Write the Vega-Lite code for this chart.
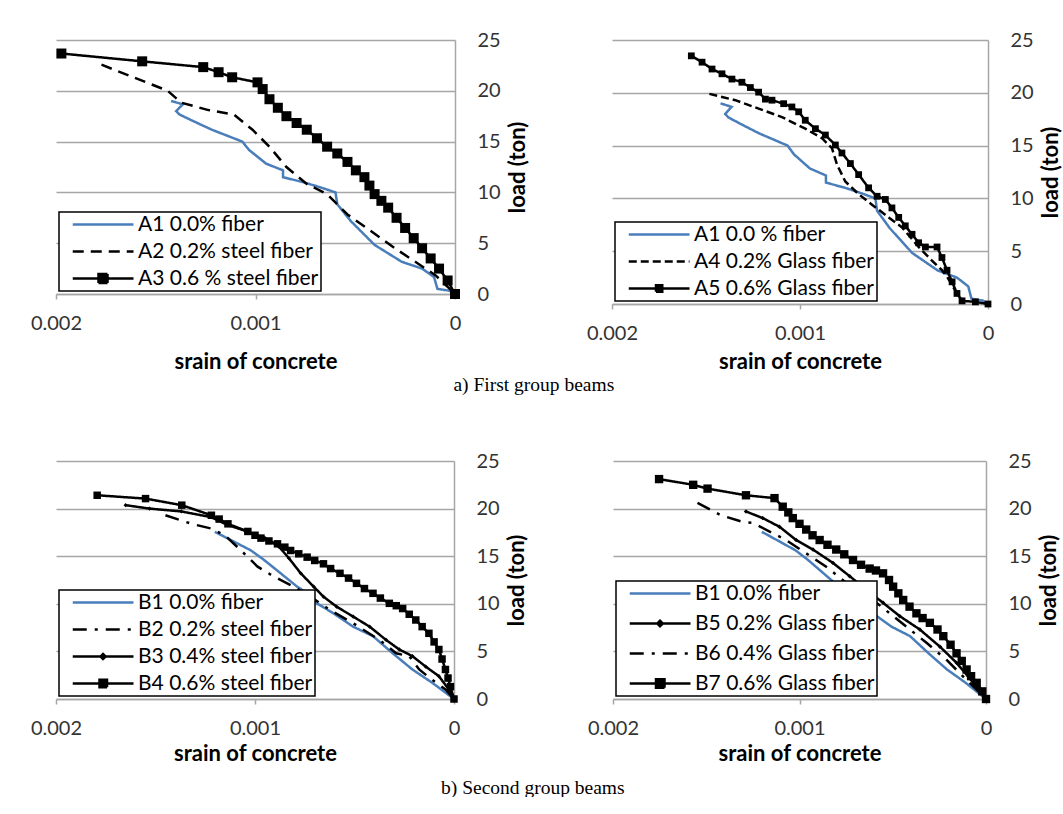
{
  "$schema": "https://vega.github.io/schema/vega-lite/v6.json",
  "background": "white",
  "padding": {"left": 30, "top": 30, "right": 0, "bottom": 0},
  "datasets": {
    "curves": [
      {"beam": "A1", "strain": 0.001423, "load": 19.0},
      {"beam": "A1", "strain": 0.001364, "load": 18.67},
      {"beam": "A1", "strain": 0.001398, "load": 18.0},
      {"beam": "A1", "strain": 0.001381, "load": 17.67},
      {"beam": "A1", "strain": 0.001321, "load": 17.1},
      {"beam": "A1", "strain": 0.001219, "load": 16.17},
      {"beam": "A1", "strain": 0.001066, "load": 15.0},
      {"beam": "A1", "strain": 0.001032, "load": 14.17},
      {"beam": "A1", "strain": 0.000947, "load": 12.83},
      {"beam": "A1", "strain": 0.000862, "load": 12.17},
      {"beam": "A1", "strain": 0.000862, "load": 11.5},
      {"beam": "A1", "strain": 0.00076, "load": 11.0},
      {"beam": "A1", "strain": 0.000675, "load": 10.5},
      {"beam": "A1", "strain": 0.000599, "load": 10.0},
      {"beam": "A1", "strain": 0.00059, "load": 8.83},
      {"beam": "A1", "strain": 0.000522, "load": 7.17},
      {"beam": "A1", "strain": 0.000403, "load": 4.83},
      {"beam": "A1", "strain": 0.000267, "load": 3.17},
      {"beam": "A1", "strain": 0.000165, "load": 2.5},
      {"beam": "A1", "strain": 0.000105, "load": 1.67},
      {"beam": "A1", "strain": 0.000088, "load": 0.5},
      {"beam": "A1", "strain": 0.000029, "load": 0.33},
      {"beam": "A1", "strain": 0.0, "load": 0.0},

      {"beam": "A2", "strain": 0.001772, "load": 22.57},
      {"beam": "A2", "strain": 0.00144, "load": 20.0},
      {"beam": "A2", "strain": 0.001372, "load": 18.83},
      {"beam": "A2", "strain": 0.001236, "load": 18.1},
      {"beam": "A2", "strain": 0.001109, "load": 17.67},
      {"beam": "A2", "strain": 0.001015, "load": 16.17},
      {"beam": "A2", "strain": 0.00093, "load": 14.5},
      {"beam": "A2", "strain": 0.000845, "load": 12.5},
      {"beam": "A2", "strain": 0.000743, "load": 10.83},
      {"beam": "A2", "strain": 0.000641, "load": 9.83},
      {"beam": "A2", "strain": 0.000539, "load": 7.83},
      {"beam": "A2", "strain": 0.00042, "load": 6.17},
      {"beam": "A2", "strain": 0.000301, "load": 4.5},
      {"beam": "A2", "strain": 0.000199, "load": 3.17},
      {"beam": "A2", "strain": 0.000097, "load": 1.83},
      {"beam": "A2", "strain": 0.0, "load": 0.0},

      {"beam": "A3", "strain": 0.001973, "load": 23.67},
      {"beam": "A3", "strain": 0.001568, "load": 22.9},
      {"beam": "A3", "strain": 0.001262, "load": 22.33},
      {"beam": "A3", "strain": 0.001185, "load": 21.83},
      {"beam": "A3", "strain": 0.001117, "load": 21.33},
      {"beam": "A3", "strain": 0.00099, "load": 20.83},
      {"beam": "A3", "strain": 0.000964, "load": 20.17},
      {"beam": "A3", "strain": 0.00093, "load": 19.17},
      {"beam": "A3", "strain": 0.000888, "load": 18.33},
      {"beam": "A3", "strain": 0.000845, "load": 17.5},
      {"beam": "A3", "strain": 0.000794, "load": 16.83},
      {"beam": "A3", "strain": 0.000743, "load": 16.17},
      {"beam": "A3", "strain": 0.000692, "load": 15.33},
      {"beam": "A3", "strain": 0.000641, "load": 14.5},
      {"beam": "A3", "strain": 0.00059, "load": 13.83},
      {"beam": "A3", "strain": 0.000539, "load": 13.0},
      {"beam": "A3", "strain": 0.000497, "load": 12.17},
      {"beam": "A3", "strain": 0.000454, "load": 11.5},
      {"beam": "A3", "strain": 0.000429, "load": 10.67},
      {"beam": "A3", "strain": 0.000403, "load": 9.83},
      {"beam": "A3", "strain": 0.000369, "load": 9.17},
      {"beam": "A3", "strain": 0.000335, "load": 8.5},
      {"beam": "A3", "strain": 0.000293, "load": 7.5},
      {"beam": "A3", "strain": 0.00025, "load": 6.5},
      {"beam": "A3", "strain": 0.000207, "load": 5.5},
      {"beam": "A3", "strain": 0.000165, "load": 4.5},
      {"beam": "A3", "strain": 0.000122, "load": 3.5},
      {"beam": "A3", "strain": 0.00008, "load": 2.5},
      {"beam": "A3", "strain": 0.000037, "load": 1.33},
      {"beam": "A3", "strain": 0.0, "load": 0.0},

      {"beam": "A4", "strain": 0.001482, "load": 19.9},
      {"beam": "A4", "strain": 0.001344, "load": 19.3},
      {"beam": "A4", "strain": 0.00122, "load": 18.5},
      {"beam": "A4", "strain": 0.001096, "load": 17.7},
      {"beam": "A4", "strain": 0.000972, "load": 16.6},
      {"beam": "A4", "strain": 0.000883, "load": 15.7},
      {"beam": "A4", "strain": 0.00083, "load": 14.75},
      {"beam": "A4", "strain": 0.000803, "load": 13.2},
      {"beam": "A4", "strain": 0.000759, "load": 11.6},
      {"beam": "A4", "strain": 0.000688, "load": 10.4},
      {"beam": "A4", "strain": 0.000617, "load": 9.4},
      {"beam": "A4", "strain": 0.000528, "load": 8.2},
      {"beam": "A4", "strain": 0.000457, "load": 7.25},
      {"beam": "A4", "strain": 0.000369, "load": 5.4},
      {"beam": "A4", "strain": 0.000298, "load": 4.1},
      {"beam": "A4", "strain": 0.000245, "load": 3.2},
      {"beam": "A4", "strain": 0.000218, "load": 2.6},
      {"beam": "A4", "strain": 0.000165, "load": 1.0},
      {"beam": "A4", "strain": 0.000138, "load": 0.3},

      {"beam": "A5", "strain": 0.001578, "load": 23.5},
      {"beam": "A5", "strain": 0.001521, "load": 22.9},
      {"beam": "A5", "strain": 0.001468, "load": 22.25},
      {"beam": "A5", "strain": 0.001415, "load": 21.8},
      {"beam": "A5", "strain": 0.001362, "load": 21.3},
      {"beam": "A5", "strain": 0.001309, "load": 21.0},
      {"beam": "A5", "strain": 0.001264, "load": 20.5},
      {"beam": "A5", "strain": 0.00122, "load": 20.06},
      {"beam": "A5", "strain": 0.001184, "load": 19.4},
      {"beam": "A5", "strain": 0.001149, "load": 19.3},
      {"beam": "A5", "strain": 0.001087, "load": 18.97},
      {"beam": "A5", "strain": 0.001043, "load": 18.66},
      {"beam": "A5", "strain": 0.001007, "load": 18.2},
      {"beam": "A5", "strain": 0.000972, "load": 17.4},
      {"beam": "A5", "strain": 0.000918, "load": 16.6},
      {"beam": "A5", "strain": 0.000865, "load": 16.0},
      {"beam": "A5", "strain": 0.000812, "load": 15.06},
      {"beam": "A5", "strain": 0.000777, "load": 14.3},
      {"beam": "A5", "strain": 0.000732, "load": 13.3},
      {"beam": "A5", "strain": 0.000688, "load": 12.25},
      {"beam": "A5", "strain": 0.000635, "load": 11.0},
      {"beam": "A5", "strain": 0.00059, "load": 10.2},
      {"beam": "A5", "strain": 0.000546, "load": 9.9},
      {"beam": "A5", "strain": 0.000511, "load": 9.1},
      {"beam": "A5", "strain": 0.000475, "load": 8.2},
      {"beam": "A5", "strain": 0.00044, "load": 7.4},
      {"beam": "A5", "strain": 0.000404, "load": 6.6},
      {"beam": "A5", "strain": 0.000369, "load": 5.8},
      {"beam": "A5", "strain": 0.000333, "load": 5.4},
      {"beam": "A5", "strain": 0.000271, "load": 5.4},
      {"beam": "A5", "strain": 0.000245, "load": 4.4},
      {"beam": "A5", "strain": 0.000218, "load": 3.2},
      {"beam": "A5", "strain": 0.000191, "load": 2.1},
      {"beam": "A5", "strain": 0.000165, "load": 1.0},
      {"beam": "A5", "strain": 0.000138, "load": 0.3},
      {"beam": "A5", "strain": 0.000067, "load": 0.2},
      {"beam": "A5", "strain": 0.0, "load": 0.0},

      {"beam": "B1", "strain": 0.001202, "load": 17.56},
      {"beam": "B1", "strain": 0.001103, "load": 16.5},
      {"beam": "B1", "strain": 0.00102, "load": 15.6},
      {"beam": "B1", "strain": 0.000954, "load": 14.6},
      {"beam": "B1", "strain": 0.000871, "load": 13.2},
      {"beam": "B1", "strain": 0.000788, "load": 11.8},
      {"beam": "B1", "strain": 0.000722, "load": 10.9},
      {"beam": "B1", "strain": 0.000689, "load": 10.05},
      {"beam": "B1", "strain": 0.000606, "load": 9.0},
      {"beam": "B1", "strain": 0.000507, "load": 7.6},
      {"beam": "B1", "strain": 0.000407, "load": 6.6},
      {"beam": "B1", "strain": 0.000308, "load": 4.8},
      {"beam": "B1", "strain": 0.000209, "load": 3.1},
      {"beam": "B1", "strain": 0.000109, "load": 1.7},
      {"beam": "B1", "strain": 0.0, "load": 0.0},

      {"beam": "B2", "strain": 0.00145, "load": 19.3},
      {"beam": "B2", "strain": 0.001318, "load": 18.4},
      {"beam": "B2", "strain": 0.001219, "load": 17.9},
      {"beam": "B2", "strain": 0.001152, "load": 17.2},
      {"beam": "B2", "strain": 0.00107, "load": 15.6},
      {"beam": "B2", "strain": 0.000987, "load": 13.9},
      {"beam": "B2", "strain": 0.000904, "load": 12.85},
      {"beam": "B2", "strain": 0.000805, "load": 11.8},
      {"beam": "B2", "strain": 0.000722, "load": 10.75},
      {"beam": "B2", "strain": 0.000623, "load": 9.35},
      {"beam": "B2", "strain": 0.000507, "load": 7.96},
      {"beam": "B2", "strain": 0.000374, "load": 6.2},
      {"beam": "B2", "strain": 0.000291, "load": 4.8},
      {"beam": "B2", "strain": 0.000225, "load": 4.5},
      {"beam": "B2", "strain": 0.000175, "load": 3.1},
      {"beam": "B2", "strain": 0.000109, "load": 2.0},
      {"beam": "B2", "strain": 0.000043, "load": 1.0},
      {"beam": "B2", "strain": 0.0, "load": 0.0},

      {"beam": "B3", "strain": 0.00165, "load": 20.36},
      {"beam": "B3", "strain": 0.00153, "load": 20.0},
      {"beam": "B3", "strain": 0.00137, "load": 19.7},
      {"beam": "B3", "strain": 0.00122, "load": 19.1},
      {"beam": "B3", "strain": 0.00114, "load": 18.3},
      {"beam": "B3", "strain": 0.00104, "load": 17.6},
      {"beam": "B3", "strain": 0.00095, "load": 16.9},
      {"beam": "B3", "strain": 0.00088, "load": 16.0},
      {"beam": "B3", "strain": 0.00083, "load": 14.8},
      {"beam": "B3", "strain": 0.00077, "load": 13.2},
      {"beam": "B3", "strain": 0.000705, "load": 11.8},
      {"beam": "B3", "strain": 0.000656, "load": 10.75},
      {"beam": "B3", "strain": 0.00059, "load": 9.7},
      {"beam": "B3", "strain": 0.000507, "load": 8.66},
      {"beam": "B3", "strain": 0.000424, "load": 7.6},
      {"beam": "B3", "strain": 0.000341, "load": 6.2},
      {"beam": "B3", "strain": 0.000275, "load": 5.2},
      {"beam": "B3", "strain": 0.000209, "load": 4.5},
      {"beam": "B3", "strain": 0.000142, "load": 3.4},
      {"beam": "B3", "strain": 0.000076, "load": 2.4},
      {"beam": "B3", "strain": 0.000026, "load": 1.0},
      {"beam": "B3", "strain": 0.0, "load": 0.0},

      {"beam": "B4", "strain": 0.001793, "load": 21.4},
      {"beam": "B4", "strain": 0.00155, "load": 21.05},
      {"beam": "B4", "strain": 0.001368, "load": 20.36},
      {"beam": "B4", "strain": 0.001219, "load": 19.3},
      {"beam": "B4", "strain": 0.00118, "load": 18.9},
      {"beam": "B4", "strain": 0.001136, "load": 18.4},
      {"beam": "B4", "strain": 0.001036, "load": 17.6},
      {"beam": "B4", "strain": 0.001, "load": 17.2},
      {"beam": "B4", "strain": 0.00097, "load": 16.9},
      {"beam": "B4", "strain": 0.00093, "load": 16.6},
      {"beam": "B4", "strain": 0.000887, "load": 16.3},
      {"beam": "B4", "strain": 0.00085, "load": 15.95},
      {"beam": "B4", "strain": 0.000821, "load": 15.6},
      {"beam": "B4", "strain": 0.00078, "load": 15.25},
      {"beam": "B4", "strain": 0.000738, "load": 14.9},
      {"beam": "B4", "strain": 0.0007, "load": 14.55},
      {"beam": "B4", "strain": 0.000656, "load": 14.2},
      {"beam": "B4", "strain": 0.00062, "load": 13.7},
      {"beam": "B4", "strain": 0.000573, "load": 13.2},
      {"beam": "B4", "strain": 0.00053, "load": 12.7},
      {"beam": "B4", "strain": 0.00049, "load": 12.15},
      {"beam": "B4", "strain": 0.00045, "load": 11.6},
      {"beam": "B4", "strain": 0.000407, "load": 11.1},
      {"beam": "B4", "strain": 0.00037, "load": 10.6},
      {"beam": "B4", "strain": 0.000325, "load": 10.05},
      {"beam": "B4", "strain": 0.00029, "load": 9.8},
      {"beam": "B4", "strain": 0.000258, "load": 9.5},
      {"beam": "B4", "strain": 0.000225, "load": 8.9},
      {"beam": "B4", "strain": 0.000192, "load": 8.3},
      {"beam": "B4", "strain": 0.00016, "load": 7.6},
      {"beam": "B4", "strain": 0.000126, "load": 6.9},
      {"beam": "B4", "strain": 0.0001, "load": 6.0},
      {"beam": "B4", "strain": 0.000076, "load": 5.2},
      {"beam": "B4", "strain": 0.00006, "load": 4.2},
      {"beam": "B4", "strain": 0.000043, "load": 3.1},
      {"beam": "B4", "strain": 0.00003, "load": 2.2},
      {"beam": "B4", "strain": 0.000018, "load": 1.3},
      {"beam": "B4", "strain": 0.0, "load": 0.0},

      {"beam": "B5", "strain": 0.001287, "load": 19.7},
      {"beam": "B5", "strain": 0.001197, "load": 19.0},
      {"beam": "B5", "strain": 0.001108, "load": 18.1},
      {"beam": "B5", "strain": 0.001018, "load": 16.7},
      {"beam": "B5", "strain": 0.000928, "load": 15.7},
      {"beam": "B5", "strain": 0.000821, "load": 14.3},
      {"beam": "B5", "strain": 0.000731, "load": 12.9},
      {"beam": "B5", "strain": 0.000642, "load": 11.5},
      {"beam": "B5", "strain": 0.000552, "load": 10.1},
      {"beam": "B5", "strain": 0.000462, "load": 8.7},
      {"beam": "B5", "strain": 0.000355, "load": 7.3},
      {"beam": "B5", "strain": 0.000247, "load": 5.5},
      {"beam": "B5", "strain": 0.000158, "load": 3.8},
      {"beam": "B5", "strain": 0.000068, "load": 1.7},
      {"beam": "B5", "strain": 0.0, "load": 0.0},

      {"beam": "B6", "strain": 0.001547, "load": 20.6},
      {"beam": "B6", "strain": 0.001421, "load": 19.3},
      {"beam": "B6", "strain": 0.001305, "load": 18.6},
      {"beam": "B6", "strain": 0.001251, "load": 18.5},
      {"beam": "B6", "strain": 0.001072, "load": 16.7},
      {"beam": "B6", "strain": 0.000964, "load": 15.3},
      {"beam": "B6", "strain": 0.000857, "load": 13.9},
      {"beam": "B6", "strain": 0.000749, "load": 12.2},
      {"beam": "B6", "strain": 0.000606, "load": 10.4},
      {"beam": "B6", "strain": 0.000516, "load": 9.0},
      {"beam": "B6", "strain": 0.000427, "load": 7.6},
      {"beam": "B6", "strain": 0.000319, "load": 5.9},
      {"beam": "B6", "strain": 0.000211, "load": 4.1},
      {"beam": "B6", "strain": 0.000104, "load": 2.0},
      {"beam": "B6", "strain": 0.0, "load": 0.0},

      {"beam": "B7", "strain": 0.001753, "load": 23.1},
      {"beam": "B7", "strain": 0.00157, "load": 22.5},
      {"beam": "B7", "strain": 0.001493, "load": 22.1},
      {"beam": "B7", "strain": 0.001287, "load": 21.4},
      {"beam": "B7", "strain": 0.001134, "load": 21.1},
      {"beam": "B7", "strain": 0.00109, "load": 20.2},
      {"beam": "B7", "strain": 0.00106, "load": 19.6},
      {"beam": "B7", "strain": 0.001036, "load": 19.0},
      {"beam": "B7", "strain": 0.001, "load": 18.4},
      {"beam": "B7", "strain": 0.000964, "load": 17.8},
      {"beam": "B7", "strain": 0.00093, "load": 17.2},
      {"beam": "B7", "strain": 0.000892, "load": 16.7},
      {"beam": "B7", "strain": 0.00085, "load": 16.2},
      {"beam": "B7", "strain": 0.000803, "load": 15.7},
      {"beam": "B7", "strain": 0.00076, "load": 15.2},
      {"beam": "B7", "strain": 0.000713, "load": 14.6},
      {"beam": "B7", "strain": 0.00067, "load": 14.1},
      {"beam": "B7", "strain": 0.000624, "load": 13.7},
      {"beam": "B7", "strain": 0.00059, "load": 13.5},
      {"beam": "B7", "strain": 0.000552, "load": 13.2},
      {"beam": "B7", "strain": 0.00052, "load": 12.5},
      {"beam": "B7", "strain": 0.000498, "load": 11.8},
      {"beam": "B7", "strain": 0.00047, "load": 11.1},
      {"beam": "B7", "strain": 0.000444, "load": 10.4},
      {"beam": "B7", "strain": 0.00041, "load": 9.7},
      {"beam": "B7", "strain": 0.000373, "load": 9.0},
      {"beam": "B7", "strain": 0.00034, "load": 8.5},
      {"beam": "B7", "strain": 0.000301, "load": 8.0},
      {"beam": "B7", "strain": 0.00026, "load": 7.3},
      {"beam": "B7", "strain": 0.000229, "load": 6.6},
      {"beam": "B7", "strain": 0.00019, "load": 5.7},
      {"beam": "B7", "strain": 0.000158, "load": 4.8},
      {"beam": "B7", "strain": 0.00013, "load": 4.0},
      {"beam": "B7", "strain": 0.000104, "load": 3.1},
      {"beam": "B7", "strain": 0.00008, "load": 2.4},
      {"beam": "B7", "strain": 0.00005, "load": 1.7},
      {"beam": "B7", "strain": 0.00002, "load": 0.8},
      {"beam": "B7", "strain": 0.0, "load": 0.0}
    ]
  },
  "data": {"name": "curves"},
  "spacing": 57,
  "resolve": {
    "scale": {"color": "independent", "strokeDash": "independent", "shape": "independent", "size": "independent"},
    "legend": {"color": "independent", "strokeDash": "independent"}
  },
  "vconcat": [
    {
      "title": {"text": "a) First group beams", "orient": "bottom", "anchor": "middle", "offset": 3, "dx": -12},
      "spacing": 57,
      "resolve": {
        "scale": {"color": "independent", "strokeDash": "independent", "shape": "independent", "size": "independent"},
        "legend": {"color": "independent", "strokeDash": "independent"}
      },
      "hconcat": [
        {
          "width": 399,
          "height": 254,
          "transform": [{"filter": {"field": "beam", "oneOf": ["A1", "A2", "A3"]}}],
          "encoding": {
            "x": {"field": "strain", "type": "quantitative", "scale": {"domain": [0, 0.002], "reverse": true, "nice": false},
                  "axis": {"values": [0, 0.001, 0.002], "format": ".3~f", "title": "srain of concrete", "labelPadding": 14.5, "titlePadding": 18}},
            "y": {"field": "load", "type": "quantitative", "scale": {"domain": [0, 25], "nice": false},
                  "axis": {"orient": "right", "values": [0, 5, 10, 15, 20, 25], "title": "load (ton)"}}
          },
          "layer": [
            {
              "mark": {"type": "line", "strokeWidth": 2.5},
              "encoding": {
                "color": {"field": "beam", "type": "nominal", "scale": {"domain": ["A1", "A2", "A3"], "range": ["#4a7ebb", "black", "black"]},
                  "legend": {"title": null, "rowPadding": 5,
                    "labelExpr": "datum.label == 'A1' ? 'A1 0.0% fiber' : datum.label == 'A2' ? 'A2 0.2% steel fiber' : 'A3 0.6 % steel fiber'",
                    "encode": {"symbols": {"update": {"fill": {"value": "black"}, "shape": {"signal": "datum.value == 'A3' ? 'M0.25,0H12.4M5.4,-0.9H7.2V0.9H5.4Z' : 'M0.25,0H12.4'"}}}}}},
                "strokeDash": {"field": "beam", "type": "nominal", "scale": {"domain": ["A1", "A2", "A3"], "range": [[1, 0], [11, 7], [1, 0]]},
                  "legend": {"title": null, "rowPadding": 5,
                    "labelExpr": "datum.label == 'A1' ? 'A1 0.0% fiber' : datum.label == 'A2' ? 'A2 0.2% steel fiber' : 'A3 0.6 % steel fiber'",
                    "encode": {"symbols": {"update": {"fill": {"value": "black"}, "shape": {"signal": "datum.value == 'A3' ? 'M0.25,0H12.4M5.4,-0.9H7.2V0.9H5.4Z' : 'M0.25,0H12.4'"}}}}}},
                "order": {"value": null}
              }
            },
            {
              "transform": [{"filter": {"field": "beam", "equal": "A3"}}],
              "mark": {"type": "point", "shape": "square", "filled": true, "color": "black", "opacity": 1, "size": 100}
            }
          ]
        },
        {
          "width": 376,
          "height": 264,
          "transform": [{"filter": {"field": "beam", "oneOf": ["A1", "A4", "A5"]}}],
          "encoding": {
            "x": {"field": "strain", "type": "quantitative", "scale": {"domain": [0, 0.002], "reverse": true, "nice": false},
                  "axis": {"values": [0, 0.001, 0.002], "format": ".3~f", "title": "srain of concrete", "labelPadding": 14.5, "titlePadding": 8}},
            "y": {"field": "load", "type": "quantitative", "scale": {"domain": [0, 25], "nice": false},
                  "axis": {"orient": "right", "values": [0, 5, 10, 15, 20, 25], "title": "load (ton)"}}
          },
          "layer": [
            {
              "mark": {"type": "line", "strokeWidth": 2.5},
              "encoding": {
                "color": {"field": "beam", "type": "nominal", "scale": {"domain": ["A1", "A4", "A5"], "range": ["#4a7ebb", "black", "black"]},
                  "legend": {"title": null, "rowPadding": 5,
                    "labelExpr": "datum.label == 'A1' ? 'A1 0.0 % fiber' : datum.label == 'A4' ? 'A4 0.2% Glass fiber' : 'A5 0.6% Glass fiber'",
                    "encode": {"symbols": {"update": {"fill": {"value": "black"}, "shape": {"signal": "datum.value == 'A5' ? 'M0.25,0H12.4M5.7,-0.65H6.95V0.65H5.7Z' : 'M0.25,0H12.4'"}}}}}},
                "strokeDash": {"field": "beam", "type": "nominal", "scale": {"domain": ["A1", "A4", "A5"], "range": [[1, 0], [8, 4], [1, 0]]},
                  "legend": {"title": null, "rowPadding": 5,
                    "labelExpr": "datum.label == 'A1' ? 'A1 0.0 % fiber' : datum.label == 'A4' ? 'A4 0.2% Glass fiber' : 'A5 0.6% Glass fiber'",
                    "encode": {"symbols": {"update": {"fill": {"value": "black"}, "shape": {"signal": "datum.value == 'A5' ? 'M0.25,0H12.4M5.7,-0.65H6.95V0.65H5.7Z' : 'M0.25,0H12.4'"}}}}}},
                "order": {"value": null}
              }
            },
            {
              "transform": [{"filter": {"field": "beam", "equal": "A5"}}],
              "mark": {"type": "point", "shape": "square", "filled": true, "color": "black", "opacity": 1, "size": 46}
            }
          ]
        }
      ]
    },
    {
      "title": {"text": "b) Second group beams", "orient": "bottom", "anchor": "middle", "offset": 14, "dx": -12},
      "spacing": 59,
      "resolve": {
        "scale": {"color": "independent", "strokeDash": "independent", "shape": "independent", "size": "independent"},
        "legend": {"color": "independent", "strokeDash": "independent"}
      },
      "hconcat": [
        {
          "width": 398,
          "height": 238,
          "transform": [{"filter": {"field": "beam", "oneOf": ["B1", "B2", "B3", "B4"]}}],
          "encoding": {
            "x": {"field": "strain", "type": "quantitative", "scale": {"domain": [0, 0.002], "reverse": true, "nice": false},
                  "axis": {"values": [0, 0.001, 0.002], "format": ".3~f", "title": "srain of concrete", "labelPadding": 14.5, "titlePadding": 5}},
            "y": {"field": "load", "type": "quantitative", "scale": {"domain": [0, 25], "nice": false},
                  "axis": {"orient": "right", "values": [0, 5, 10, 15, 20, 25], "title": "load (ton)"}}
          },
          "layer": [
            {
              "mark": {"type": "line", "strokeWidth": 2.5},
              "encoding": {
                "color": {"field": "beam", "type": "nominal", "scale": {"domain": ["B1", "B2", "B3", "B4"], "range": ["#4a7ebb", "black", "black", "black"]},
                  "legend": {"title": null, "rowPadding": 5,
                    "labelExpr": "datum.label == 'B1' ? 'B1 0.0% fiber' : datum.label == 'B2' ? 'B2 0.2% steel fiber' : datum.label == 'B3' ? 'B3 0.4% steel fiber' : 'B4 0.6% steel fiber'",
                    "encode": {"symbols": {"update": {"fill": {"value": "black"}, "shape": {"signal": "datum.value == 'B4' ? 'M0.25,0H12.4M5.6,-0.75H7.1V0.75H5.6Z' : datum.value == 'B3' ? 'M0.25,0H12.4M6.3,-0.5L6.8,0L6.3,0.5L5.8,0Z' : 'M0.25,0H12.4'"}}}}}},
                "strokeDash": {"field": "beam", "type": "nominal", "scale": {"domain": ["B1", "B2", "B3", "B4"], "range": [[1, 0], [14, 8, 3, 8], [1, 0], [1, 0]]},
                  "legend": {"title": null, "rowPadding": 5,
                    "labelExpr": "datum.label == 'B1' ? 'B1 0.0% fiber' : datum.label == 'B2' ? 'B2 0.2% steel fiber' : datum.label == 'B3' ? 'B3 0.4% steel fiber' : 'B4 0.6% steel fiber'",
                    "encode": {"symbols": {"update": {"fill": {"value": "black"}, "shape": {"signal": "datum.value == 'B4' ? 'M0.25,0H12.4M5.6,-0.75H7.1V0.75H5.6Z' : datum.value == 'B3' ? 'M0.25,0H12.4M6.3,-0.5L6.8,0L6.3,0.5L5.8,0Z' : 'M0.25,0H12.4'"}}}}}},
                "order": {"value": null}
              }
            },
            {
              "transform": [{"filter": {"field": "beam", "oneOf": ["B3", "B4"]}}],
              "mark": {"type": "point", "filled": true, "color": "black", "opacity": 1},
              "encoding": {
                "shape": {"field": "beam", "type": "nominal", "scale": {"domain": ["B3", "B4"], "range": ["diamond", "square"]}, "legend": null},
                "size": {"field": "beam", "type": "nominal", "scale": {"domain": ["B3", "B4"], "range": [18, 56]}, "legend": null}
              }
            }
          ]
        },
        {
          "width": 373,
          "height": 238,
          "transform": [{"filter": {"field": "beam", "oneOf": ["B1", "B5", "B6", "B7"]}}],
          "encoding": {
            "x": {"field": "strain", "type": "quantitative", "scale": {"domain": [0, 0.002], "reverse": true, "nice": false},
                  "axis": {"values": [0, 0.001, 0.002], "format": ".3~f", "title": "srain of concrete", "labelPadding": 14.5, "titlePadding": 5}},
            "y": {"field": "load", "type": "quantitative", "scale": {"domain": [0, 25], "nice": false},
                  "axis": {"orient": "right", "values": [0, 5, 10, 15, 20, 25], "title": "load (ton)"}}
          },
          "layer": [
            {
              "mark": {"type": "line", "strokeWidth": 2.5},
              "encoding": {
                "color": {"field": "beam", "type": "nominal", "scale": {"domain": ["B1", "B5", "B6", "B7"], "range": ["#4a7ebb", "black", "black", "black"]},
                  "legend": {"title": null, "rowPadding": 8,
                    "labelExpr": "datum.label == 'B1' ? 'B1 0.0% fiber' : datum.label == 'B5' ? 'B5 0.2% Glass fiber' : datum.label == 'B6' ? 'B6 0.4% Glass fiber' : 'B7 0.6% Glass fiber'",
                    "encode": {"symbols": {"update": {"fill": {"value": "black"}, "shape": {"signal": "datum.value == 'B7' ? 'M0.25,0H12.4M5.5,-0.85H7.2V0.85H5.5Z' : datum.value == 'B5' ? 'M0.25,0H12.4M6.3,-0.55L6.85,0L6.3,0.55L5.75,0Z' : 'M0.25,0H12.4'"}}}}}},
                "strokeDash": {"field": "beam", "type": "nominal", "scale": {"domain": ["B1", "B5", "B6", "B7"], "range": [[1, 0], [1, 0], [14, 8, 3, 8], [1, 0]]},
                  "legend": {"title": null, "rowPadding": 8,
                    "labelExpr": "datum.label == 'B1' ? 'B1 0.0% fiber' : datum.label == 'B5' ? 'B5 0.2% Glass fiber' : datum.label == 'B6' ? 'B6 0.4% Glass fiber' : 'B7 0.6% Glass fiber'",
                    "encode": {"symbols": {"update": {"fill": {"value": "black"}, "shape": {"signal": "datum.value == 'B7' ? 'M0.25,0H12.4M5.5,-0.85H7.2V0.85H5.5Z' : datum.value == 'B5' ? 'M0.25,0H12.4M6.3,-0.55L6.85,0L6.3,0.55L5.75,0Z' : 'M0.25,0H12.4'"}}}}}},
                "order": {"value": null}
              }
            },
            {
              "transform": [{"filter": {"field": "beam", "oneOf": ["B5", "B7"]}}],
              "mark": {"type": "point", "filled": true, "color": "black", "opacity": 1},
              "encoding": {
                "shape": {"field": "beam", "type": "nominal", "scale": {"domain": ["B5", "B7"], "range": ["diamond", "square"]}, "legend": null},
                "size": {"field": "beam", "type": "nominal", "scale": {"domain": ["B5", "B7"], "range": [20, 70]}, "legend": null}
              }
            }
          ]
        }
      ]
    }
  ],
  "config": {
    "view": {"stroke": null},
    "title": {"font": "Liberation Serif", "fontSize": 19.5, "fontWeight": "normal", "color": "black"},
    "axisX": {
      "labelFont": "Lato", "labelFontSize": 20, "labelColor": "#333333", "labelFlush": false,
      "titleFont": "Lato", "titleFontSize": 22, "titleFontWeight": "bold", "titleColor": "black",
      "tickSize": 5, "tickColor": "#a6a6a6", "tickWidth": 1.5,
      "domainColor": "#a6a6a6", "domainWidth": 1.5, "grid": false
    },
    "axisY": {
      "labelFont": "Lato", "labelFontSize": 20, "labelColor": "#333333", "labelPadding": 22,
      "titleFont": "Lato", "titleFontSize": 22, "titleFontWeight": "bold", "titleColor": "black",
      "titleAngle": 270, "titleBaseline": "top", "titlePadding": 7,
      "ticks": false, "tickSize": 0,
      "domainColor": "#a6a6a6", "domainWidth": 1.5,
      "grid": true, "gridColor": "#a6a6a6", "gridWidth": 1.5
    },
    "legend": {
      "orient": "bottom-left", "offset": 3, "padding": 2,
      "strokeColor": "black", "strokeWidth": 1.5, "fillColor": "white",
      "symbolSize": 100, "symbolStrokeWidth": 2.5,
      "labelFont": "Lato", "labelFontSize": 21, "labelColor": "black",
      "labelOffset": 56, "labelLimit": 400
    }
  }
}
